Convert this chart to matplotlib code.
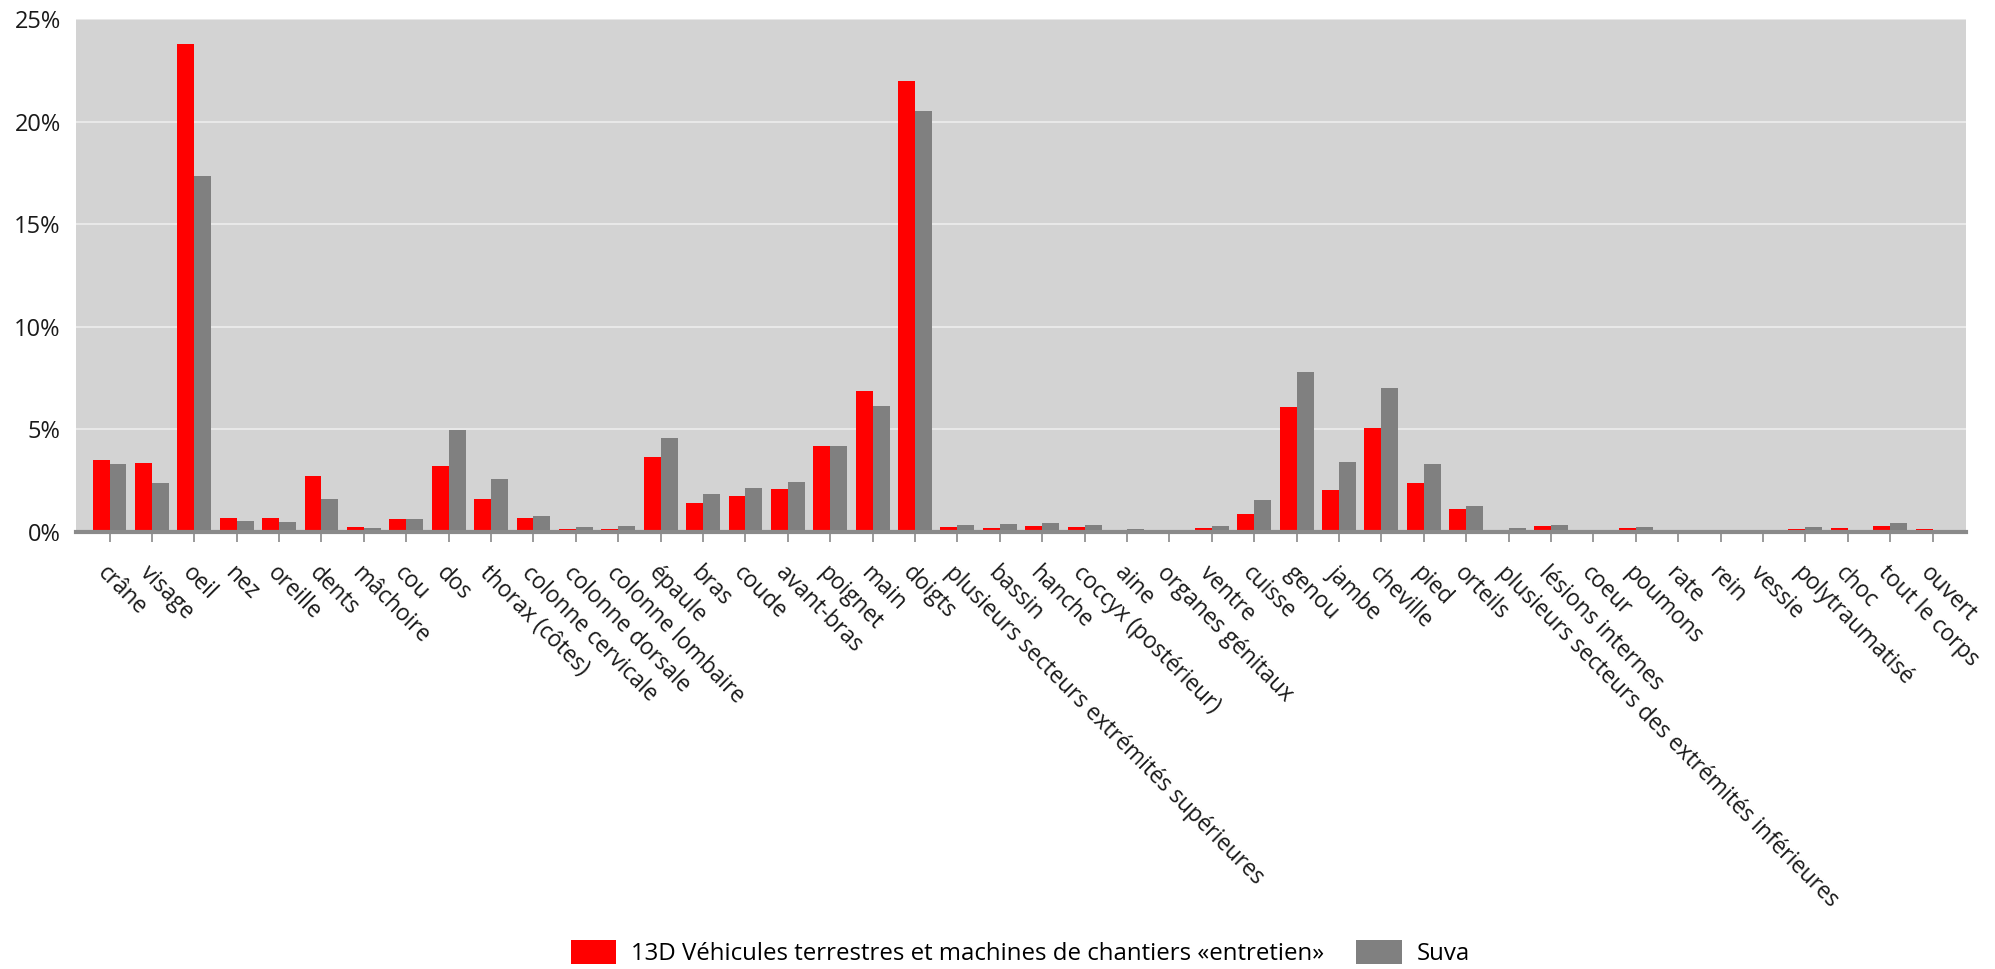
import matplotlib
matplotlib.use('Agg')
import matplotlib.pyplot as plt
import numpy as np

plt.rcParams['font.family'] = ['Open Sans', 'DejaVu Sans']

categories = [
    'crâne', 'visage', 'oeil', 'nez', 'oreille', 'dents', 'mâchoire', 'cou', 'dos',
    'thorax (côtes)', 'colonne cervicale', 'colonne dorsale', 'colonne lombaire',
    'épaule', 'bras', 'coude', 'avant-bras', 'poignet', 'main', 'doigts',
    'plusieurs secteurs extrémités supérieures', 'bassin', 'hanche',
    'coccyx (postérieur)', 'aine', 'organes génitaux', 'ventre', 'cuisse', 'genou',
    'jambe', 'cheville', 'pied', 'orteils',
    'plusieurs secteurs des extrémités inférieures', 'lésions internes', 'coeur',
    'poumons', 'rate', 'rein', 'vessie', 'polytraumatisé', 'choc', 'tout le corps',
    'ouvert',
]

entretien = [
    3.51, 3.37, 23.8, 0.68, 0.68, 2.73, 0.23, 0.61, 3.22,
    1.60, 0.69, 0.16, 0.16,
    3.64, 1.43, 1.75, 2.10, 4.21, 6.87, 22.0,
    0.23, 0.21, 0.30,
    0.25, 0.11, 0.0, 0.20, 0.87, 6.10,
    2.07, 5.05, 2.40, 1.11,
    0.10, 0.28, 0.0,
    0.20, 0.0, 0.0, 0.0, 0.16, 0.20, 0.28,
    0.13,
]

suva = [
    3.30, 2.37, 17.35, 0.52, 0.49, 1.63, 0.17, 0.61, 4.97,
    2.59, 0.77, 0.23, 0.30,
    4.56, 1.84, 2.13, 2.43, 4.21, 6.15, 20.53,
    0.33, 0.38, 0.44,
    0.34, 0.15, 0.03, 0.28, 1.56, 7.82,
    3.39, 7.0, 3.29, 1.27,
    0.20, 0.33, 0.02,
    0.24, 0.02, 0.02, 0.02, 0.23, 0.08, 0.42,
    0.08,
]

yticks = [0, 5, 10, 15, 20, 25]
series_names = ['13D Véhicules terrestres et machines de chantiers «entretien»', 'Suva']

fig = plt.figure(figsize=(19.95, 9.69), dpi=100)
ax = fig.add_axes([0.0381, 0.451, 0.9474, 0.5294])
ax.set_facecolor('#d3d3d3')

x = np.arange(len(categories))
w = 0.4
ax.bar(x - w / 2, entretien, width=w, color='#ff0000', label=series_names[0], linewidth=0)
ax.bar(x + w / 2, suva, width=w, color='#808080', label=series_names[1], linewidth=0)

ax.set_xlim(-0.79, len(categories) - 1 + 0.79)
ax.set_ylim(0, 25)
ax.set_yticks(yticks)
ax.set_yticklabels([f'{v}%' for v in yticks])
ax.yaxis.grid(True, color='#e8e8e8', linewidth=1.5)
ax.set_axisbelow(True)

ax.set_xticks(x)
ax.set_xticklabels(categories, rotation=-45, ha='left', va='top',
                   rotation_mode='anchor', fontsize=16.3, color='#1a1a1a')
ax.tick_params(axis='x', length=7, width=1.4, color='#9a9a9a', pad=14)
ax.tick_params(axis='y', length=0, pad=11, labelsize=17, labelcolor='#1a1a1a')

for s in ['top', 'right', 'left']:
    ax.spines[s].set_visible(False)
ax.spines['bottom'].set_color('#8a8a8a')
ax.spines['bottom'].set_linewidth(3)

fig.legend(loc='center', bbox_to_anchor=(0.5115, 0.0165), ncol=2, frameon=False,
           fontsize=17.3, handlelength=1.88, handleheight=1.13, handletextpad=0.63,
           columnspacing=1.33)

plt.savefig('out.png', dpi=100)
plt.close()
